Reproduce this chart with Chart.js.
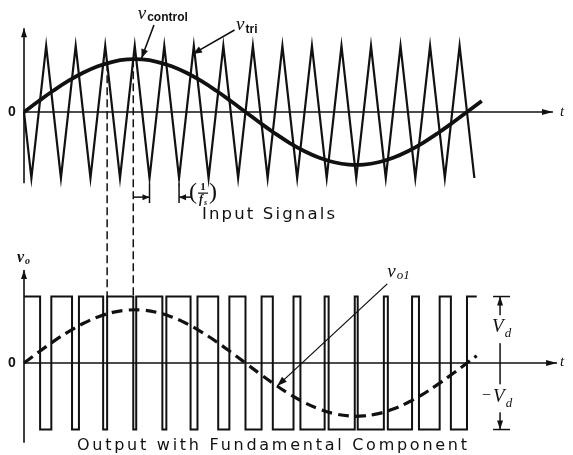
<!DOCTYPE html>
<html>
<head>
<meta charset="utf-8">
<script src="https://cdn.jsdelivr.net/npm/chart.js@4"></script>
<style>
  html, body { margin: 0; padding: 0; background: #fff; }
  #wrap { position: relative; width: 573px; height: 455px; }
</style>
</head>
<body>
<div id="wrap"><canvas id="pwm"></canvas></div>
<script>
// time is measured in carrier periods (1/fs), mf = 15, ma = 0.8
const triT = [0, 0.25, 0.75, 1.25, 1.75, 2.25, 2.75, 3.25, 3.75, 4.25, 4.75, 5.25, 5.75, 6.25, 6.75, 7.25,
  7.75, 8.25, 8.75, 9.25, 9.75, 10.25, 10.75, 11.25, 11.75, 12.25, 12.75, 13.25, 13.75, 14.25, 14.75, 15.25];
const triV = [0, -1, 1, -1, 1, -1, 1, -1, 1, -1, 1, -1, 1, -1, 1, -1,
  1, -1, 1, -1, 1, -1, 1, -1, 1, -1, 1, -1, 1, -1, 1, -1];

const ctlT = [0, 0.5, 1, 1.5, 2, 2.5, 3, 3.5, 4, 4.5, 5, 5.5, 6, 6.5, 7, 7.5,
  8, 8.5, 9, 9.5, 10, 10.5, 11, 11.5, 12, 12.5, 13, 13.5, 14, 14.5, 15, 15.5];
const ctlV = [0, 0.166, 0.325, 0.47, 0.594, 0.693, 0.761, 0.796, 0.796, 0.761, 0.693, 0.594, 0.47, 0.325, 0.166, 0,
  -0.166, -0.325, -0.47, -0.594, -0.693, -0.761, -0.796, -0.796, -0.761, -0.693, -0.594, -0.47, -0.325, -0.166, 0, 0.166];

// output switching instants and the level held after each one
const voT = [0, 0.545, 0.925, 1.626, 1.86, 2.68, 2.815, 3.7, 3.8, 4.685, 4.82, 5.64, 5.874, 6.576, 6.954, 7.5,
  8.045, 8.425, 9.126, 9.36, 10.18, 10.315, 11.2, 11.3, 12.185, 12.32, 13.14, 13.374, 14.075, 14.455, 15.0, 15.33];
const voV = [1, -1, 1, -1, 1, -1, 1, -1, 1, -1, 1, -1, 1, -1, 1, -1,
  1, -1, 1, -1, 1, -1, 1, -1, 1, -1, 1, -1, 1, -1, 1, 1];

const vo1T = [0, 0.5, 1, 1.5, 2, 2.5, 3, 3.5, 4, 4.5, 5, 5.5, 6, 6.5, 7, 7.5,
  8, 8.5, 9, 9.5, 10, 10.5, 11, 11.5, 12, 12.5, 13, 13.5, 14, 14.5, 15, 15.33];
const vo1V = [0, 0.166, 0.325, 0.47, 0.594, 0.693, 0.761, 0.796, 0.796, 0.761, 0.693, 0.594, 0.47, 0.325, 0.166, 0,
  -0.166, -0.325, -0.47, -0.594, -0.693, -0.761, -0.796, -0.796, -0.761, -0.693, -0.594, -0.47, -0.325, -0.166, 0, 0.11];

// crossings traced down to the output with dashed lines
const guideT = [2.815, 3.7];
const guideV = [0.739, 0.8];
// one carrier period marked below the top plot
const periodMarks = [4.25, 5.25];

const INK = '#111';
const zip = (xs, ys) => xs.map((x, i) => ({ x: x, y: ys[i] }));

function arrowHead(ctx, x1, y1, x2, y2, len, half) {
  const a = Math.atan2(y2 - y1, x2 - x1);
  ctx.beginPath();
  ctx.moveTo(x2, y2);
  ctx.lineTo(x2 - len * Math.cos(a) + half * Math.sin(a), y2 - len * Math.sin(a) - half * Math.cos(a));
  ctx.lineTo(x2 - len * Math.cos(a) - half * Math.sin(a), y2 - len * Math.sin(a) + half * Math.cos(a));
  ctx.closePath();
  ctx.fill();
}

function seg(ctx, x1, y1, x2, y2, lw, dash) {
  ctx.save();
  ctx.lineWidth = lw;
  ctx.setLineDash(dash || []);
  ctx.beginPath();
  ctx.moveTo(x1, y1);
  ctx.lineTo(x2, y2);
  ctx.stroke();
  ctx.restore();
}

function arrow(ctx, x1, y1, x2, y2, lw, len, half) {
  seg(ctx, x1, y1, x2, y2, lw);
  arrowHead(ctx, x1, y1, x2, y2, len || 9, half || 3.5);
}

function spaced(ctx, text, x, y, width) {
  ctx.letterSpacing = '0px';
  const w = ctx.measureText(text).width;
  const extra = (width - w) / (text.length - 1);
  ctx.letterSpacing = extra + 'px';
  ctx.textAlign = 'left';
  ctx.fillText(text, x, y);
  ctx.letterSpacing = '0px';
}

function subLabel(ctx, main, sub, x, y, mainFont, subFont, dy) {
  ctx.textAlign = 'left';
  ctx.textBaseline = 'alphabetic';
  ctx.font = mainFont;
  ctx.fillText(main, x, y);
  const w = ctx.measureText(main).width;
  ctx.font = subFont;
  ctx.fillText(sub, x + w + 1, y + dy);
}

const annotations = {
  id: 'annotations',
  afterDatasetsDraw(chart) {
    const ctx = chart.ctx;
    const xs = chart.scales.x, yt = chart.scales.yTop, yb = chart.scales.yBot;
    const X = v => xs.getPixelForValue(v);
    const T = v => yt.getPixelForValue(v);
    const B = v => yb.getPixelForValue(v);
    ctx.save();
    ctx.strokeStyle = INK;
    ctx.fillStyle = INK;

    // axes
    arrow(ctx, X(0), T(-1.08), X(0), T(1.27), 1.6, 9, 3);
    arrow(ctx, X(0), T(0), X(17.91), T(0), 1.6, 11, 3);
    arrow(ctx, X(0), B(-1.2), X(0), B(1.4), 1.6, 9, 3);
    arrow(ctx, X(0), B(0), X(18.05), B(0), 1.6, 11, 3);

    ctx.textBaseline = 'middle';
    ctx.textAlign = 'center';
    ctx.font = 'bold 14px "Liberation Sans", Arial, sans-serif';
    ctx.fillText('0', X(0) - 12, T(0));
    ctx.fillText('0', X(0) - 12, B(0));
    ctx.font = 'italic 15px "Liberation Serif", serif';
    ctx.fillText('t', X(18.22), T(0));
    ctx.fillText('t', X(18.22), B(0) - 1);

    subLabel(ctx, 'v', 'o', X(0) - 7, B(1.4) - 8, 'italic bold 16px "Liberation Serif", serif',
      'italic bold 10px "Liberation Serif", serif', 2);

    // dashed guide lines from the crossings to the output
    guideT.forEach((g, i) => seg(ctx, X(g), T(guideV[i]), X(g), B(1), 1.5, [8, 4]));

    // carrier period marker
    const my = T(-1.29);
    periodMarks.forEach(p => seg(ctx, X(p), T(-1.08), X(p), T(-1.38), 1.5));
    arrow(ctx, X(guideT[1]), my, X(periodMarks[0]), my, 1.5, 7, 3);
    arrow(ctx, X(periodMarks[1]) + 12, my, X(periodMarks[1]), my, 1.5, 7, 3);
    const fx = X(periodMarks[1]) + 10;
    const fy = my - 4;
    ctx.textBaseline = 'middle';
    ctx.textAlign = 'left';
    ctx.font = '24px "Liberation Serif", serif';
    ctx.fillText('(', fx, fy);
    ctx.fillText(')', fx + 20, fy);
    ctx.textAlign = 'center';
    ctx.font = 'bold 11px "Liberation Serif", serif';
    ctx.fillText('1', fx + 14, fy - 6);
    seg(ctx, fx + 9, fy, fx + 19, fy, 1.2);
    subLabel(ctx, 'f', 's', fx + 10, fy + 10, 'italic bold 12px "Liberation Serif", serif',
      'italic bold 8px "Liberation Serif", serif', 2);

    // signal labels
    subLabel(ctx, 'v', 'control', X(3.85), 19, 'italic 19px "Liberation Serif", serif',
      'bold 12px "Liberation Sans", Arial, sans-serif', 2);
    arrow(ctx, X(4.4), 25, X(3.98), T(0.8) - 1, 1.6, 9, 3.5);
    subLabel(ctx, 'v', 'tri', X(7.18), 30, 'italic 19px "Liberation Serif", serif',
      'bold 12px "Liberation Sans", Arial, sans-serif', 3);
    arrow(ctx, X(7.13), 30, X(5.72), T(0.88), 1.6, 9, 3.5);

    subLabel(ctx, 'v', 'o1', X(12.3), B(1.29), 'italic 19px "Liberation Serif", serif',
      'italic 13px "Liberation Serif", serif', 2);
    arrow(ctx, X(12.3), B(1.19), X(8.57), B(-0.347), 1.3, 10, 3.5);

    // Vd dimension
    const vx = X(16.12);
    seg(ctx, vx - 7, B(1), vx + 10, B(1), 1.5);
    seg(ctx, vx - 7, B(-1), vx + 10, B(-1), 1.5);
    arrow(ctx, vx, B(0), vx, B(1), 1.5, 9, 3);
    arrow(ctx, vx, B(0), vx, B(-1), 1.5, 9, 3);
    ctx.fillStyle = '#fff';
    ctx.fillRect(vx - 10, B(0.72), 22, 28);
    ctx.fillRect(vx - 18, B(-0.32), 32, 28);
    ctx.fillStyle = INK;
    subLabel(ctx, 'V', 'd', vx - 8, B(0.47), 'italic 19px "Liberation Serif", serif',
      'italic 13px "Liberation Serif", serif', 5);
    subLabel(ctx, 'V', 'd', vx - 7, B(-0.58), 'italic 19px "Liberation Serif", serif',
      'italic 13px "Liberation Serif", serif', 5);
    ctx.font = '16px "Liberation Serif", serif';
    ctx.fillText('\u2212', vx - 18, B(-0.55));

    // captions
    ctx.textBaseline = 'alphabetic';
    ctx.font = '16.5px "DejaVu Sans", sans-serif';
    spaced(ctx, 'Input Signals', 202, 219, 133);
    ctx.font = '16px "DejaVu Sans", sans-serif';
    spaced(ctx, 'Output with Fundamental Component', 77, 450, 390);
    ctx.restore();
  }
};

new Chart(document.getElementById('pwm'), {
  type: 'line',
  data: {
    datasets: [
      { label: 'vtri', data: zip(triT, triV), yAxisID: 'yTop', borderColor: INK, borderWidth: 2.2,
        pointRadius: 0, tension: 0 },
      { label: 'vcontrol', data: zip(ctlT, ctlV), yAxisID: 'yTop', borderColor: INK, borderWidth: 3.8,
        pointRadius: 0, tension: 0.4 },
      { label: 'vo', data: zip(voT, voV), yAxisID: 'yBot', borderColor: INK, borderWidth: 2,
        pointRadius: 0, stepped: 'before' },
      { label: 'vo1', data: zip(vo1T, vo1V), yAxisID: 'yBot', borderColor: INK, borderWidth: 3.2,
        borderDash: [11, 6], pointRadius: 0, tension: 0.4 }
    ]
  },
  options: {
    responsive: true,
    maintainAspectRatio: false,
    animation: false,
    layout: { padding: 0 },
    scales: {
      x: { type: 'linear', display: false, min: -0.813, max: 18.59 },
      yTop: { display: false, min: -5.197, max: 1.697 },
      yBot: { display: false, min: -1.383, max: 5.459 }
    },
    plugins: {
      legend: { display: false },
      tooltip: { enabled: false }
    }
  },
  plugins: [annotations]
});
</script>
</body>
</html>
